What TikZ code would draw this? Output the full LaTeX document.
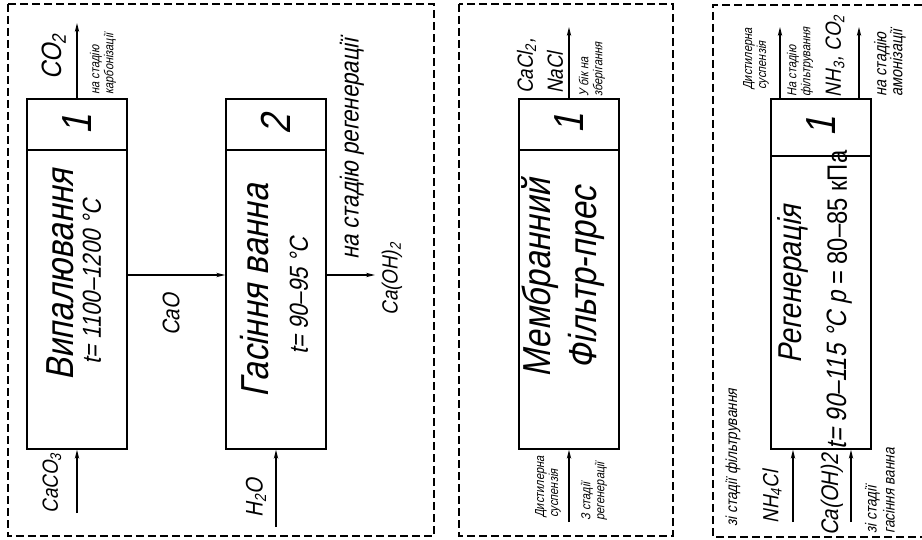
\documentclass[tikz,border=0pt]{standalone}
\usepackage{fontspec}
\setmainfont{Liberation Sans}[FakeSlant=0.2,FakeStretch=0.85]
\newfontfamily\upfont{Liberation Sans}[FakeStretch=0.85]
\usetikzlibrary{positioning, arrows.meta, calc}
\tikzset{
  unitbox/.style = {draw, line width=0.75pt, minimum width=50pt, inner sep=0pt},
  zone/.style    = {draw, line width=0.6pt, dash pattern=on 4pt off 2pt},
  arr/.style     = {-{Stealth[length=4.5pt,width=2.2pt]}, line width=0.6pt},
  vert/.style    = {rotate=90, inner sep=0pt},
  title/.style   = {vert, align=center, font=\fontsize{19.5}{23}\selectfont},
  num/.style     = {vert, font=\fontsize{21}{21}\selectfont},
  param/.style   = {vert, font=\fontsize{13}{13}\selectfont},
  chem/.style    = {vert, align=left, font=\fontsize{11}{15}\selectfont},
  note/.style    = {vert, align=left, anchor=west, font=\fontsize{8}{9}\selectfont},
  tiny/.style    = {vert, align=left, anchor=west, font=\fontsize{6.5}{7}\selectfont}
}
\begin{document}
\begin{tikzpicture}[x=0.5pt, y=-0.5pt]
  \useasboundingbox (0,0) rectangle (922,540);
  % panels
  \draw[zone] (8,4) rectangle (434,536);
  \draw[zone] (459,4) rectangle (673,536);
  \draw[zone] (922,5) -- (713,5) -- (713,537) -- (922,537);

  % units
  \node[unitbox, minimum height=25.5pt]  (nv) at (77,124.5)  {};
  \node[unitbox, minimum height=149.5pt] (bv) at (77,299.5)  {};
  \node[unitbox, minimum height=25.5pt]  (ng) at (276,124.5) {};
  \node[unitbox, minimum height=149.5pt] (bg) at (276,299.5) {};
  \node[unitbox, minimum height=25.5pt]  (nm) at (569,124.5) {};
  \node[unitbox, minimum height=149.5pt] (bm) at (569,299.5) {};
  \node[unitbox, minimum height=28.5pt]  (nr) at (821,127.5) {};
  \node[unitbox, minimum height=146.5pt] (br) at (821,302.5) {};

  % panel 1
  \node[num]   (nv1) at (77,125)  {1};
  \node[title] (tv)  at (60,275)  {Випалювання};
  \node[param] (pv)  at (92,282)  {t= 1100–1200 °C};
  \node[num]   (ng1) at (276,125) {2};
  \node[title] (tg)  at (255,291) {Гасіння ванна};
  \node[param] (pg)  at (299,296) {t= 90–95 °C};

  \coordinate (co2)   at (77,23);
  \coordinate (caco3) at (77,513);
  \coordinate (mid)   at (176,275);
  \coordinate (caoh)  at (375,275);
  \coordinate (h2o)   at (276,527);
  \draw[arr] (nv.north) -- (co2);
  \draw[arr] (caco3) -- (bv.south);
  \draw[arr] (mid -| bv.east) -- (mid -| bg.west);
  \draw[arr] (caoh -| bg.east) -- (caoh);
  \draw[arr] (h2o) -- (bg.south);

  \node[chem, font=\fontsize{14}{15}\selectfont] (lco2) at (54,57) {CO\textsubscript{2}};
  \node[tiny]  (lkarb)  at (103,95)  {на стадію\\карбонізації};
  \node[chem, font=\fontsize{12}{13}\selectfont] (lcao) at (171,315) {CaO};
  \node[chem]  (lcaco3) at (52,483)  {CaCO\textsubscript{3}};
  \node[chem, font=\fontsize{12}{13}\selectfont] (lh2o) at (256,498) {H\textsubscript{2}O};
  \node[param] (lreg)   at (352,149) {на стадію регенерації};
  \node[chem]  (lcaoh)  at (392,279) {Ca(OH)\textsubscript{2}};

  % panel 2
  \node[num]   (nm1) at (569,124) {1};
  \node[title] (tm)  at (563,278) {Мембранний\\Фільтр-прес};
  \coordinate (outm) at (569,27);
  \coordinate (inm)  at (569,522);
  \draw[arr] (nm.north) -- (outm);
  \draw[arr] (inm) -- (bm.south);
  \node[chem, anchor=west] (lcacl) at (540,94) {CaCl\textsubscript{2},\\NaCl};
  \node[tiny] (lzber) at (592,97)  {У бік на\\зберігання};
  \node[tiny] (ldist) at (548,518) {Дистилерна\\суспензія};
  \node[tiny] (lzreg) at (594,521) {З стадії\\регенерації};

  % panel 3
  \node[num] (nr1) at (821,127) {1};
  \node[vert, font=\fontsize{16.5}{17}\selectfont] (tr) at (793,284) {Регенерація};
  \node[vert, font=\fontsize{14}{14}\selectfont] (pr) at (840,300)
    {t= 90–115 °C p {\upfont= 80–85 кПа}};
  \coordinate (r1) at (780,27);
  \coordinate (r2) at (859,27);
  \coordinate (r3) at (793,522);
  \coordinate (r4) at (851,522);
  \draw[arr] (r1 |- nr.north) -- (r1);
  \draw[arr] (r2 |- nr.north) -- (r2);
  \draw[arr] (r3) -- (r3 |- br.south);
  \draw[arr] (r4) -- (r4 |- br.south);
  \node[tiny] (ldist3) at (756,90) {Дистилерна\\суспензія};
  \node[tiny] (lfilt)  at (800,97) {На стадію\\фільтрування};
  \node[chem] (lnh3)   at (835,56) {NH\textsubscript{3}, CO\textsubscript{2}};
  \node[note, font=\fontsize{8.5}{8}\selectfont] (lamon) at (890,97) {на стадію\\амонізації};
  \node[note] (lzfilt) at (733,527) {зі стадії фільтрування};
  \node[chem] (lnh4)   at (772,497) {NH\textsubscript{4}Cl};
  \node[chem, font=\fontsize{12}{13}\selectfont] (lcaoh3) at (832,495) {Ca(OH)2};
  \node[note] (lzgas)  at (880,534) {зі стадії\\гасіння ванна};
\end{tikzpicture}
\end{document}
